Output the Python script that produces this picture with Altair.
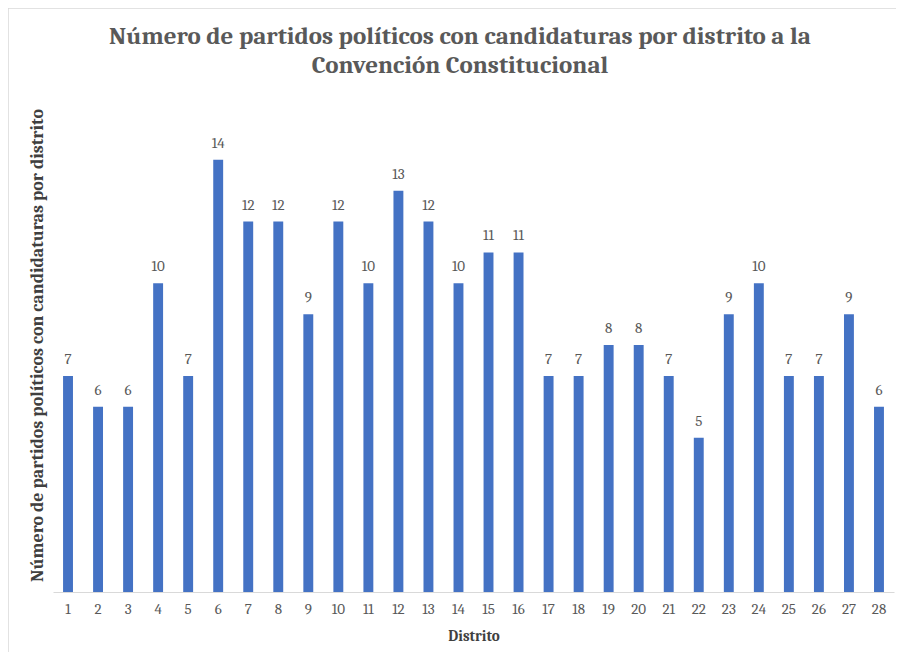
import altair as alt
import pandas as pd

distritos = [str(i) for i in range(1, 29)]
partidos = [7, 6, 6, 10, 7, 14, 12, 12, 9, 12, 10, 13, 12, 10, 11, 11, 7, 7, 8, 8, 7, 5, 9, 10, 7, 7, 9, 6]
titulo = ["Número de partidos políticos con candidaturas por distrito a la",
          "Convención Constitucional"]

df = pd.DataFrame({"Distrito": distritos, "Partidos": partidos})

SERIF = "Cambria, 'Liberation Serif', 'DejaVu Serif', serif"

x_enc = alt.X("Distrito:N", sort=distritos,
              scale=alt.Scale(paddingInner=0.67, paddingOuter=0.335),
              axis=alt.Axis(title="Distrito", labelAngle=0, labelFont=SERIF, labelFontSize=15,
                            labelColor="#595959", labelPadding=9, ticks=False,
                            domainColor="#d9d9d9", domainWidth=1.2,
                            titleFont=SERIF, titleFontSize=15, titleFontWeight="bold",
                            titleColor="#404040", titlePadding=12))
y_enc = alt.Y("Partidos:Q", scale=alt.Scale(domain=[0, 16]),
              axis=alt.Axis(title="Número de partidos políticos con candidaturas por distrito",
                            labels=False, ticks=False, domain=False, grid=False,
                            titleFont=SERIF, titleFontSize=18, titleFontWeight="bold",
                            titleColor="#404040", titlePadding=7))

bars = alt.Chart(df).mark_bar(color="#4472C4").encode(x=x_enc, y=y_enc)
labels = alt.Chart(df).mark_text(dy=-17, font=SERIF, fontSize=15, color="#595959").encode(
    x=alt.X("Distrito:N", sort=distritos), y="Partidos:Q", text="Partidos:Q")

tdf = pd.DataFrame({"t": titulo, "yy": [-62, -33]})
title_marks = alt.Chart(tdf).mark_text(
    font=SERIF, fontSize=25, fontWeight="bold", color="#595959",
    baseline="middle", align="center", clip=False).encode(
    text="t:N", x=alt.value(407), y=alt.Y("yy:Q", scale=None, axis=None))

border = alt.Chart(pd.DataFrame({"a": [0]})).mark_rect(
    fill="transparent", stroke="#d9d9d9", strokeWidth=1.5, clip=False).encode(
    x=alt.value(-45), x2=alt.value(900), y=alt.value(-90), y2=alt.value(700))

chart = alt.layer(border, bars, labels, title_marks).properties(
    width=841, height=494,
    background="white",
    padding={"left": 45, "top": 90, "right": 2, "bottom": 60},
    autosize=alt.AutoSizeParams(type="none"),
).configure_view(stroke="transparent", strokeWidth=0)

chart.save("out.html", embed_options={"renderer": "svg", "actions": False})
